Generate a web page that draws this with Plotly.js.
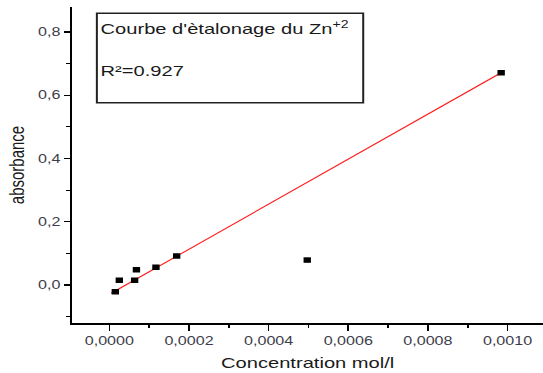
<!DOCTYPE html>
<html>
<head>
<meta charset="utf-8">
<script src="https://cdn.plot.ly/plotly-3.0.1.min.js"></script>
<style>
html,body{margin:0;padding:0;background:#fff;overflow:hidden;}
#chart{width:405px;height:373px;transform:scaleX(1.3407);transform-origin:0 0;}
</style>
</head>
<body>
<div id="chart"></div>
<script>
const concentration = [0.000015, 0.000025, 0.0000635, 0.000068, 0.000117, 0.000169, 0.000497, 0.000984];
const absorbance = [-0.021, 0.015, 0.015, 0.048, 0.056, 0.092, 0.079, 0.671];
const fitX = [0.0000045, 0.000985];
const fitY = [-0.026, 0.672];
const boxTitle = "Courbe d'ètalonage du Zn<sup>+2</sup>";
const boxR2 = "R²=0.927";
const xTitle = "Concentration mol/l";
const yTitle = "absorbance";

const fam = "Liberation Sans, Arial, sans-serif";

const data = [
  {x: fitX, y: fitY, type: "scatter", mode: "lines", line: {color: "#ff1a1a", width: 1}, hoverinfo: "skip"},
  {x: concentration, y: absorbance, type: "scatter", mode: "markers",
   marker: {symbol: "square", size: 5.5, color: "#000"}}
];

const layout = {
  width: 405, height: 373,
  margin: {l: 54, r: 0, t: 7, b: 50},
  paper_bgcolor: "#fff", plot_bgcolor: "#fff",
  showlegend: false,
  separators: ", ",
  font: {family: fam, size: 12, color: "#333"},
  xaxis: {
    range: [-0.0000928, 0.001089],
    tick0: 0, dtick: 0.0002, tickformat: ".4f",
    showgrid: false, zeroline: false,
    showline: true, linecolor: "#000", linewidth: 1.5,
    ticks: "outside", ticklen: 6, tickcolor: "#000", tickwidth: 1.2,
    minor: {dtick: 0.0001, ticks: "outside", ticklen: 3, tickcolor: "#000", tickwidth: 1.2, showgrid: false},
    tickfont: {size: 12, color: "#3d3d4a"},
    title: {text: xTitle, font: {size: 15, color: "#1a1a1a"}, standoff: 10}
  },
  yaxis: {
    range: [-0.120, 0.879],
    tick0: 0, dtick: 0.2, tickformat: ".1f",
    showgrid: false, zeroline: false,
    showline: true, linecolor: "#000", linewidth: 1.5,
    ticks: "outside", ticklen: 5, tickcolor: "#000", tickwidth: 1.2,
    minor: {dtick: 0.1, ticks: "outside", ticklen: 3, tickcolor: "#000", tickwidth: 1.2, showgrid: false},
    tickfont: {size: 12, color: "#3d3d4a"},
    title: {text: yTitle, font: {size: 15, color: "#1a1a1a"}, standoff: 6}
  },
  shapes: [
    {type: "rect", xref: "paper", yref: "paper", x0: 0.052, x1: 0.618, y0: 0.697, y1: 0.980,
     line: {color: "#222", width: 1.5}}
  ],
  annotations: [
    {xref: "paper", yref: "paper", x: 0.055, y: 0.934, xanchor: "left", yanchor: "middle",
     text: boxTitle, showarrow: false, font: {family: fam, size: 15, color: "#1a1a1a"}},
    {xref: "paper", yref: "paper", x: 0.055, y: 0.800, xanchor: "left", yanchor: "middle",
     text: boxR2, showarrow: false, font: {family: fam, size: 15, color: "#1a1a1a"}}
  ]
};

Plotly.newPlot("chart", data, layout, {displayModeBar: false, staticPlot: true});
</script>
</body>
</html>
